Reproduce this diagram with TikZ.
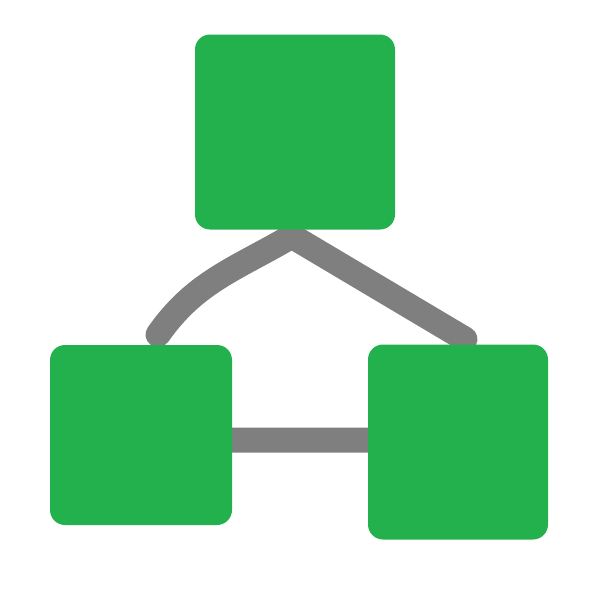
\documentclass[tikz,border=0pt]{standalone}
\usetikzlibrary{backgrounds}
\definecolor{paintgreen}{RGB}{34,177,76}
\definecolor{paintgray}{RGB}{127,127,127}

\begin{document}
\begin{tikzpicture}[
   box/.style={fill=paintgreen,rounded corners=0.3cm,inner sep=0pt},
   link/.style={draw=paintgray,line width=0.5cm,line cap=round}]
   \useasboundingbox (0,0) rectangle (12,-12);
   \node[box,minimum width=4cm,minimum height=3.9cm] (top) at (5.9,-2.64) {};
   \node[box,minimum width=3.64cm,minimum height=3.6cm] (left) at (2.82,-8.7) {};
   \node[box,minimum width=3.6cm,minimum height=3.9cm] (right) at (9.16,-8.84) {};
   \begin{pgfonlayer}{background}
   \draw[link] ([xshift=-0.14cm,yshift=-0.17cm]top.south)
      to[out=210,in=55] ([xshift=0.34cm,yshift=0.2cm]left.north);
   \draw[link] ([xshift=0.06cm,yshift=-0.2cm]top.south)
      -- ([xshift=0.14cm,yshift=0.1cm]right.north);
   \draw[link] ([yshift=-0.1cm]left.east) -- ([yshift=0.04cm]right.west);
   \end{pgfonlayer}
\end{tikzpicture}
\end{document}
